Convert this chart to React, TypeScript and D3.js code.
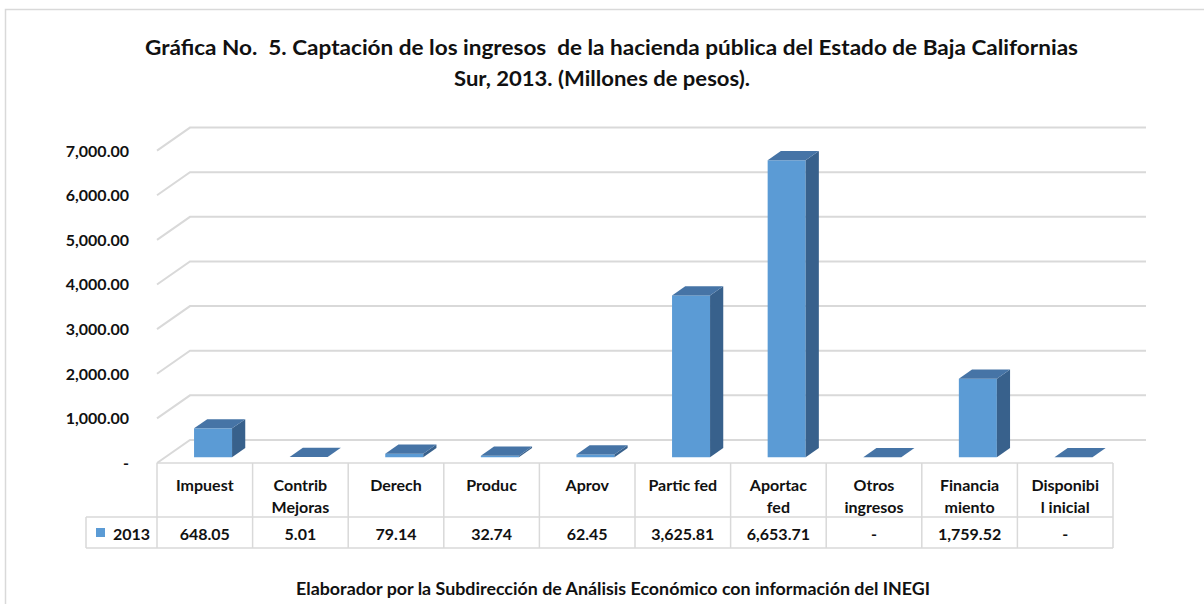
import React from "react";
import * as d3 from "d3";

const categories: string[][] = [
  ["Impuest"],
  ["Contrib", "Mejoras"],
  ["Derech"],
  ["Produc"],
  ["Aprov"],
  ["Partic fed"],
  ["Aportac", "fed"],
  ["Otros", "ingresos"],
  ["Financia", "miento"],
  ["Disponibi", "l inicial"],
];
const seriesName = "2013";
const values2013: (number | null)[] = [648.05, 5.01, 79.14, 32.74, 62.45, 3625.81, 6653.71, null, 1759.52, null];
const yTicks: number[] = [0, 1000, 2000, 3000, 4000, 5000, 6000, 7000];
const titleLines: string[] = [
  "Gráfica No.  5. Captación de los ingresos  de la hacienda pública del Estado de Baja Californias",
  "Sur, 2013. (Millones de pesos).",
];
const footer = "Elaborador por la Subdirección de Análisis Económico con información del INEGI";

const W = 1204;
const H = 604;
const FONT = "Lato, 'Open Sans', sans-serif";
const GRID = "#D9D9D9";
const FRONT = "#5B9BD5";
const TOP = "#4674A6";
const SIDE = "#38618C";
const INK = "#111";

export default function App() {
  const left = 157;
  const right = 1113;
  const floorY = 463;
  const dX = 33;
  const dY = 23;
  const keys = categories.map((c) => c.join(" "));
  const x = d3.scaleBand<string>().domain(keys).range([left, right]).paddingInner(0).paddingOuter(0);
  const h = d3.scaleLinear().domain([0, 7000]).range([0, 312.4]);
  const fmt = d3.format(",.2f");
  const tickFmt = (v: number) => (v === 0 ? "-" : fmt(v));
  const bw = x.bandwidth();
  const barW = 38;
  const z0 = 0.25;
  const dz = 0.4;

  const tableTop = floorY;
  const headerBottom = 517;
  const tableBottom = 548;
  const legendLeft = 86;
  const fs = 16;

  const titleGeom = [
    { x: 145, y: 55, len: 933 },
    { x: 454, y: 86, len: 296 },
  ];

  return (
    <svg width={W} height={H} style={{ display: "block", position: "absolute", left: 0, top: 0 }} fontFamily={FONT}>
      <rect x={0} y={0} width={W} height={H} fill="#fff" />
      <path d={`M5.5,${H} V9.5 H${W}`} fill="none" stroke={GRID} strokeWidth={1.5} />

      {titleLines.map((t, i) => (
        <text
          key={i}
          x={titleGeom[i].x}
          y={titleGeom[i].y}
          textLength={titleGeom[i].len}
          lengthAdjust="spacingAndGlyphs"
          fontSize={21.5}
          fontWeight={700}
          fill={INK}
          style={{ whiteSpace: "pre" }}
        >
          {t}
        </text>
      ))}

      {/* gridlines */}
      {yTicks.map((t) => {
        const yb = floorY - dY - h(t);
        const yf = floorY - h(t);
        return (
          <g key={t}>
            <path d={`M${left},${yf} L${left + dX},${yb} H${right + dX}`} fill="none" stroke={GRID} strokeWidth={2} />
            <text x={129} y={yf + 6} textAnchor="end" fontSize={fs} fontWeight={700} fill={INK}>
              {tickFmt(t)}
            </text>
          </g>
        );
      })}

      {/* bars */}
      {values2013.map((v, i) => {
        const val = v ?? 0;
        const x0 = (x(keys[i]) as number) + (bw - barW) / 2 + z0 * dX;
        const yb = floorY - z0 * dY;
        const yt = yb - h(val);
        const ox = dz * dX;
        const oy = dz * dY;
        return (
          <g key={i}>
            {val > 0 && h(val) > 1 && <rect x={x0} y={yt} width={barW} height={yb - yt} fill={FRONT} />}
            {h(val) > 1 && (
              <polygon
                points={`${x0 + barW},${yt} ${x0 + barW + ox},${yt - oy} ${x0 + barW + ox},${yb - oy} ${x0 + barW},${yb}`}
                fill={SIDE}
              />
            )}
            <polygon
              points={`${x0},${yt} ${x0 + barW},${yt} ${x0 + barW + ox},${yt - oy} ${x0 + ox},${yt - oy}`}
              fill={TOP}
            />
          </g>
        );
      })}

      {/* data table */}
      <g stroke={GRID} strokeWidth={1.5} fill="none">
        <line x1={left} x2={right} y1={tableTop} y2={tableTop} />
        <line x1={legendLeft} x2={right} y1={headerBottom} y2={headerBottom} />
        <line x1={legendLeft} x2={right} y1={tableBottom} y2={tableBottom} />
        <line x1={legendLeft} x2={legendLeft} y1={headerBottom} y2={tableBottom} />
        {keys.map((k) => (
          <line key={k} x1={x(k)} x2={x(k)} y1={tableTop} y2={tableBottom} />
        ))}
        <line x1={right} x2={right} y1={tableTop} y2={tableBottom} />
      </g>
      {categories.map((lines, i) => {
        const cx = (x(keys[i]) as number) + bw / 2;
        return (
          <g key={i}>
            {lines.map((l, j) => (
              <text key={j} x={cx} y={491 + j * 22} textAnchor="middle" fontSize={fs} fontWeight={700} fill={INK}>
                {l}
              </text>
            ))}
            <text x={cx} y={540} textAnchor="middle" fontSize={fs} fontWeight={700} fill={INK}>
              {values2013[i] == null ? "-" : fmt(values2013[i] as number)}
            </text>
          </g>
        );
      })}
      <rect x={96} y={528} width={9} height={9} fill={FRONT} />
      <text x={113} y={540} fontSize={fs} fontWeight={700} fill={INK}>
        {seriesName}
      </text>

      <text x={296} y={595} textLength={634} lengthAdjust="spacingAndGlyphs" fontSize={16.5} fontWeight={700} fill={INK}>
        {footer}
      </text>
    </svg>
  );
}
